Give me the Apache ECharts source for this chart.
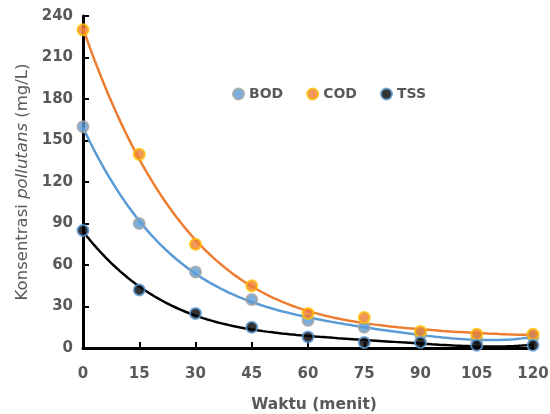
<!DOCTYPE html>
<html><head><meta charset="utf-8">
<script src="https://cdn.jsdelivr.net/npm/echarts@6/dist/echarts.min.js"></script>
<style>html,body{margin:0;padding:0;background:#fff}#c{width:550px;height:414px}</style>
</head><body><div id="c"></div>
<script>
const times = [0, 15, 30, 45, 60, 75, 90, 105, 120];
const bod = [160, 90, 55, 35, 20, 15, 10, 6, 8];
const cod = [230, 140, 75, 45, 25, 22, 12, 10, 10];
const tss = [85, 42, 25, 15, 8, 4, 4, 2, 2];
const yTicks = [0, 30, 60, 90, 120, 150, 180, 210, 240];
const xTicks = [0, 15, 30, 45, 60, 75, 90, 105, 120];
const TREND_ORDER = 4;

// least-squares polynomial trendline derived from the data
function polyFit(xs, ys, order) {
  const n = order + 1;
  const A = Array.from({length: n}, () => new Array(n + 1).fill(0));
  xs.forEach((x0, k) => {
    const x = x0 / 120;
    for (let i = 0; i < n; i++) {
      for (let j = 0; j < n; j++) A[i][j] += Math.pow(x, i + j);
      A[i][n] += ys[k] * Math.pow(x, i);
    }
  });
  for (let i = 0; i < n; i++) {
    let p = i;
    for (let r = i + 1; r < n; r++) if (Math.abs(A[r][i]) > Math.abs(A[p][i])) p = r;
    [A[i], A[p]] = [A[p], A[i]];
    for (let r = 0; r < n; r++) {
      if (r === i) continue;
      const f = A[r][i] / A[i][i];
      for (let c = i; c <= n; c++) A[r][c] -= f * A[i][c];
    }
  }
  const coef = A.map((row, i) => row[n] / row[i]);
  const out = [];
  for (let t = 0; t <= 120; t += 1) {
    const x = t / 120;
    let y = 0;
    coef.forEach((c, i) => y += c * Math.pow(x, i));
    out.push([t, y]);
  }
  return out;
}

const txt = '#595959';
const font = '"DejaVu Sans", sans-serif';
const chart = echarts.init(document.getElementById('c'));
function pts(v) { return times.map((t, i) => [t, v[i]]); }
function trend(name, v, color) {
  return {name: name + ' trend', type: 'line', data: polyFit(times, v, TREND_ORDER), showSymbol: false, symbol: 'none',
    lineStyle: {color: color, width: 2.5}, z: 2, silent: true};
}
function scat(name, v, fill, border) {
  return {name: name, type: 'scatter', data: pts(v), symbol: 'circle', symbolSize: 11,
    itemStyle: {color: fill, borderColor: border, borderWidth: 2}, z: 5};
}
chart.setOption({
  animation: false,
  textStyle: {fontFamily: font},
  grid: {left: 83, right: 17, top: 16, bottom: 66, containLabel: false, outerBoundsMode: 'none'},
  legend: {
    data: ['BOD', 'COD', 'TSS'], top: 82, left: 227, icon: 'circle', itemWidth: 11, itemHeight: 11, itemGap: 23,
    textStyle: {color: txt, fontWeight: 'bold', fontSize: 14, fontFamily: font}
  },
  xAxis: {
    type: 'value', min: 0, max: 120, interval: 15,
    name: 'Waktu (menit)', nameLocation: 'middle', nameGap: 49,
    nameTextStyle: {color: txt, fontWeight: 'bold', fontSize: 15.5, fontFamily: font, padding: [0, 0, 0, 12]},
    axisLine: {lineStyle: {color: '#000', width: 3}},
    axisTick: {inside: true, length: 6, lineStyle: {color: '#000', width: 2}},
    axisLabel: {color: txt, fontWeight: 'bold', fontSize: 15, margin: 19, fontFamily: font,
      formatter: v => xTicks.includes(v) ? String(v) : ''},
    splitLine: {show: false}
  },
  yAxis: {
    type: 'value', min: 0, max: 240, interval: 30,
    name: 'Konsentrasi {i|pollutans} (mg/L)', nameLocation: 'middle', nameGap: 52, nameRotate: 90,
    nameTextStyle: {color: txt, fontWeight: 'normal', fontSize: 16.5, fontFamily: font,
      rich: {i: {fontStyle: 'italic', fontWeight: 'normal', color: txt, fontSize: 16.5, fontFamily: font}}},
    axisLine: {show: true, lineStyle: {color: '#000', width: 3}},
    axisTick: {show: true, inside: true, length: 6, lineStyle: {color: '#000', width: 2}},
    axisLabel: {color: txt, fontWeight: 'bold', fontSize: 15, margin: 10, fontFamily: font,
      formatter: v => yTicks.includes(v) ? String(v) : ''},
    splitLine: {show: false}
  },
  series: [
    trend('BOD', bod, '#5b9bd5'),
    trend('COD', cod, '#ed7d31'),
    trend('TSS', tss, '#000000'),
    scat('BOD', bod, '#5b9bd5', '#a5a5a5'),
    scat('COD', cod, '#ed7d31', '#ffc000'),
    scat('TSS', tss, '#000000', '#5b9bd5')
  ]
});
</script></body></html>
